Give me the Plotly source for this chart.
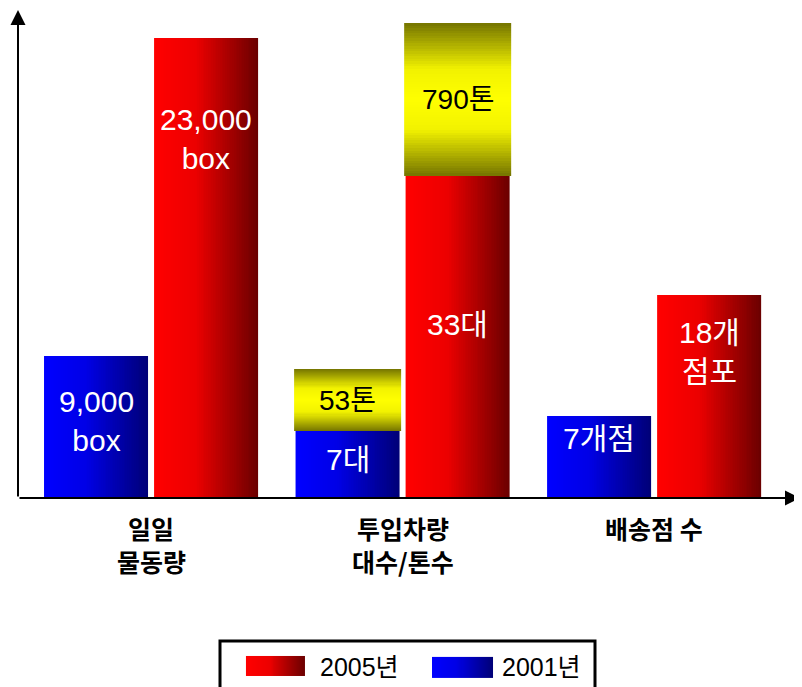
import numpy as np
import plotly.graph_objects as go

# ---------------- data ----------------
categories = ["일일<br>물동량", "투입차량<br>대수/톤수", "배송점 수"]
series_names = ["2005년", "2001년"]
height_2001 = [142, 67, 82]
height_2005 = [460, 322, 203]
tonnage_2001 = [0, 62, 0]
tonnage_2005 = [0, 153, 0]
labels_2001 = ["9,000<br>box", "7대", "7개점"]
labels_2005 = ["23,000<br>box", "33대", "18개<br>점포"]
tonnage_labels_2001 = ["", "53톤", ""]
tonnage_labels_2005 = ["", "790톤", ""]
# where the value label sits, as a fraction of the bar height
label_pos_2001 = [0.54, 0.57, 0.72]
label_pos_2005 = [0.78, 0.54, 0.72]

# ---------------- style ----------------
RED_SCALE = [[0, "#FF0000"], [0.4, "#EC0000"], [1, "#6C0000"]]
BLUE_SCALE = [[0, "#0000FF"], [0.4, "#0000E6"], [1, "#000078"]]
YELLOW_SCALE = [[0, "#787800"], [0.3, "#F2F200"], [0.5, "#FFFF00"], [0.7, "#F2F200"], [1, "#787800"]]
BAR_W = 0.4135
GAP = 0.024
TON_W = 0.425
FONT = "Liberation Sans, Arial, Noto Sans CJK KR, sans-serif"
KFONT = "Noto Sans CJK KR, Liberation Sans, sans-serif"
N = 60

# the page has an 8px body margin, so the figure is 8px smaller than the window
W, H = 794, 679
OX, OY = 8, 8
X_RANGE = [-0.529, 2.58]
Y_RANGE = [0, 488]

fig = go.Figure()


def hbar(center, width, bottom, top, scale, xa="x", ya="y"):
    xe = np.linspace(center - width / 2, center + width / 2, N + 1)
    z = [np.linspace(0, 1, N)]
    fig.add_trace(go.Heatmap(x=xe, y=[bottom, top], z=z, colorscale=scale, zmin=0, zmax=1,
                             showscale=False, hoverinfo="skip", xaxis=xa, yaxis=ya))


def vbar(center, width, bottom, top, scale):
    ye = np.linspace(bottom, top, N + 1)
    z = [[v] for v in np.linspace(0, 1, N)]
    fig.add_trace(go.Heatmap(x=[center - width / 2, center + width / 2], y=ye, z=z,
                             colorscale=scale, zmin=0, zmax=1, showscale=False, hoverinfo="skip"))


off = BAR_W / 2 + GAP / 2
for i in range(len(categories)):
    xb, xr = i - off, i + off
    hbar(xb, BAR_W, 0, height_2001[i], BLUE_SCALE)
    hbar(xr, BAR_W, 0, height_2005[i], RED_SCALE)
    if tonnage_2001[i]:
        vbar(xb, TON_W, height_2001[i], height_2001[i] + tonnage_2001[i], YELLOW_SCALE)
    if tonnage_2005[i]:
        vbar(xr, TON_W, height_2005[i], height_2005[i] + tonnage_2005[i], YELLOW_SCALE)

annotations = []
for i in range(len(categories)):
    xb, xr = i - off, i + off
    annotations.append(dict(x=xb, y=height_2001[i] * label_pos_2001[i], text=labels_2001[i],
                            showarrow=False, font=dict(family=FONT, size=30, color="white")))
    annotations.append(dict(x=xr, y=height_2005[i] * label_pos_2005[i], text=labels_2005[i],
                            showarrow=False, font=dict(family=FONT, size=30, color="white")))
    if tonnage_labels_2001[i]:
        annotations.append(dict(x=xb, y=height_2001[i] + tonnage_2001[i] / 2, text=tonnage_labels_2001[i],
                                showarrow=False, font=dict(family=FONT, size=28, color="black")))
    if tonnage_labels_2005[i]:
        annotations.append(dict(x=xr, y=height_2005[i] + tonnage_2005[i] / 2, text=tonnage_labels_2005[i],
                                showarrow=False, font=dict(family=FONT, size=28, color="black")))
    # category labels, one annotation per line for the wide line spacing
    for k, line in enumerate(categories[i].split("<br>")):
        annotations.append(dict(x=i, y=0, text=line, showarrow=False, yshift=-30 - 33 * k,
                                font=dict(family=KFONT, size=25, color="black", weight="bold")))

# axis arrows
annotations.append(dict(x=X_RANGE[0], y=Y_RANGE[1], ax=X_RANGE[0], ay=0, xref="x", yref="y",
                        axref="x", ayref="y", showarrow=True, arrowhead=2, arrowsize=1.5,
                        arrowwidth=2, arrowcolor="black", text=""))
annotations.append(dict(x=X_RANGE[1], y=0, ax=X_RANGE[0], ay=0, xref="x", yref="y",
                        axref="x", ayref="y", showarrow=True, arrowhead=2, arrowsize=1.5,
                        arrowwidth=2, arrowcolor="black", text=""))

# legend (custom, with gradient swatches)
hbar(0.15, 0.157, 0.23, 0.66, RED_SCALE, xa="x2", ya="y2")
hbar(0.646, 0.162, 0.20, 0.64, BLUE_SCALE, xa="x2", ya="y2")
annotations.append(dict(x=0.263, y=0.43, xref="x2", yref="y2", text=series_names[0], showarrow=False,
                        xanchor="left", font=dict(family=FONT, size=25, color="black")))
annotations.append(dict(x=0.745, y=0.43, xref="x2", yref="y2", text=series_names[1], showarrow=False,
                        xanchor="left", font=dict(family=FONT, size=25, color="black")))

fig.update_layout(
    width=W, height=H,
    margin=dict(l=0, r=0, t=0, b=0),
    paper_bgcolor="white", plot_bgcolor="white",
    showlegend=False,
    xaxis=dict(domain=[(18 - OX) / W, (800 - OX) / W], range=X_RANGE, showgrid=False, zeroline=False,
               showline=False, showticklabels=False, ticks=""),
    yaxis=dict(domain=[(H - (498 - OY)) / H, (H - (10 - OY)) / H], range=Y_RANGE, showgrid=False,
               zeroline=False, showline=False, showticklabels=False, ticks=""),
    xaxis2=dict(domain=[(219 - OX) / W, (596 - OX) / W], range=[0, 1], anchor="y2", visible=False),
    yaxis2=dict(domain=[0, 47 / H], range=[0, 1], anchor="x2", visible=False),
    annotations=annotations,
    shapes=[dict(type="rect", xref="paper", yref="paper", x0=(220 - OX) / W, x1=(595 - OX) / W,
                 y0=-0.02, y1=(H - (641 - OY)) / H, line=dict(color="black", width=3))],
)

fig.write_html("out.html")
